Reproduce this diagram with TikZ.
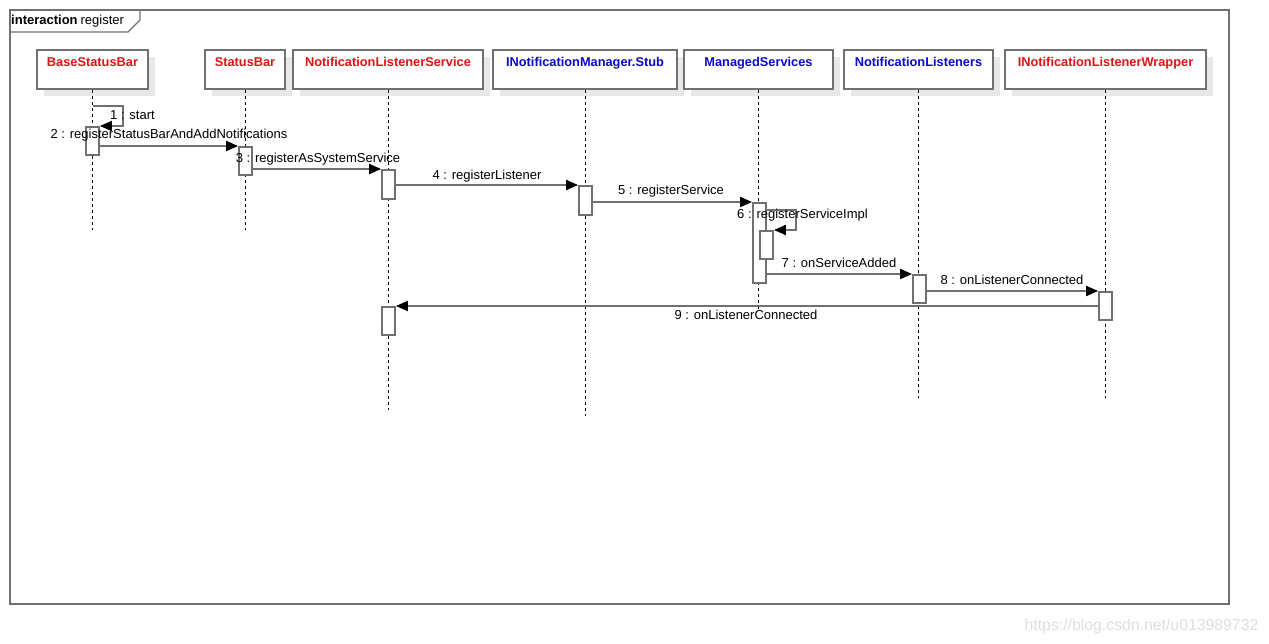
\documentclass[tikz,border=0pt]{standalone}
\usepackage{fontspec}
\setmainfont{Liberation Sans}
\usetikzlibrary{arrows.meta,shadows}
\definecolor{lred}{RGB}{224,20,20}
\definecolor{lblue}{RGB}{10,10,200}
\definecolor{edgegray}{RGB}{112,112,112}
\definecolor{shadegray}{RGB}{232,232,232}
\definecolor{wmgray}{RGB}{222,222,222}
\begin{document}
\begin{tikzpicture}[x=1pt,y=-1pt,
  font=\fontsize{13}{15}\selectfont,
  head/.style={draw=edgegray, line width=2pt, fill=white, inner xsep=0pt, inner ysep=0pt,
    text height=17pt, text depth=22pt, minimum height=39pt,
    font=\fontsize{12.8}{15}\selectfont\bfseries,
    general shadow={fill=shadegray, shadow xshift=7pt, shadow yshift=-7pt}},
  redhead/.style={head, text=lred},
  bluehead/.style={head, text=lblue},
  life/.style={draw=black, line width=0.9pt, dash pattern=on 3pt off 3pt},
  act/.style={draw=edgegray, line width=1.8pt, fill=white, minimum width=13pt, inner sep=0pt, anchor=north},
  msg/.style={draw=edgegray, line width=1.9pt, -{Triangle[length=12pt,width=10pt,color=black,fill=black]}},
  lbl/.style={inner sep=0pt, text=black}]
\useasboundingbox (0,0) rectangle (1269,644);
% frame
\draw[edgegray, line width=1.6pt] (10,10) rectangle (1229,604);
\draw[edgegray, line width=1.4pt] (10,32) -- (128,32) -- (140,20) -- (140,10);
\node[lbl, anchor=west] (frametitle) at (11,21.5) {\textbf{interaction}\kern3pt register};
% heads
\node[redhead, minimum width=111pt] (bsb) at (92.5,69.5) {BaseStatusBar};
\node[redhead, minimum width=80pt] (sb) at (245,69.5) {StatusBar};
\node[redhead, minimum width=190pt] (nls) at (388,69.5) {NotificationListenerService};
\node[bluehead, minimum width=184pt] (stub) at (585,69.5) {INotificationManager.Stub};
\node[bluehead, minimum width=149pt] (ms) at (758.5,69.5) {ManagedServices};
\node[bluehead, minimum width=149pt] (nl) at (918.5,69.5) {NotificationListeners};
\node[redhead, minimum width=201pt] (w) at (1105.5,69.5) {INotificationListenerWrapper};
% lifeline ends
\coordinate (bsbEnd) at (bsb.south |- 0,230);
\coordinate (sbEnd) at (sb.south |- 0,230);
\coordinate (nlsEnd) at (nls.south |- 0,410);
\coordinate (stubEnd) at (stub.south |- 0,416);
\coordinate (msEnd) at (ms.south |- 0,311);
\coordinate (nlEnd) at (nl.south |- 0,398);
\coordinate (wEnd) at (w.south |- 0,398);
\draw[life] (bsb.south) -- (bsbEnd);
\draw[life] (sb.south) -- (sbEnd);
\draw[life] (nls.south) -- (nlsEnd);
\draw[life] (stub.south) -- (stubEnd);
\draw[life] (ms.south) -- (msEnd);
\draw[life] (nl.south) -- (nlEnd);
\draw[life] (w.south) -- (wEnd);
% activations
\node[act, minimum height=28pt] (aBSB) at (92.5,126) {};
\node[act, minimum height=28pt] (aSB) at (245.5,146) {};
\node[act, minimum height=29pt] (aNLS1) at (388.5,169) {};
\node[act, minimum height=29pt] (aStub) at (585.5,185) {};
\node[act, minimum height=80pt] (aMS) at (759.5,202) {};
\node[act, minimum height=28pt] (aMS2) at (766.5,230) {};
\node[act, minimum height=28pt] (aNL) at (919.5,274) {};
\node[act, minimum height=28pt] (aW) at (1105.5,291) {};
\node[act, minimum height=28pt] (aNLS2) at (388.5,306) {};
% messages
\draw[msg] (aBSB.north |- 0,106) -- (123,106) |- (aBSB.north east);
\draw[msg] (aSB.north west -| aBSB.east) -- (aSB.north west);
\draw[msg] (aNLS1.north west -| aSB.east) -- (aNLS1.north west);
\draw[msg] (aStub.north west -| aNLS1.east) -- (aStub.north west);
\draw[msg] (aMS.north west -| aStub.east) -- (aMS.north west);
\draw[msg] (aMS.east |- 0,210) -- (796,210) |- (aMS2.north east);
\draw[msg] (aNL.north west -| aMS.east) -- (aNL.north west);
\draw[msg] (aW.north west -| aNL.east) -- (aW.north west);
\draw[msg] (aW.west |- aNLS2.north) -- (aNLS2.north east);
% labels
\node[lbl] (l1) at (132.5,115) {1 : start};
\node[lbl] (l2) at (169,135) {2 : registerStatusBarAndAddNotifications};
\node[lbl] (l3) at (318,159) {3 : registerAsSystemService};
\node[lbl] (l4) at (487,176) {4 : registerListener};
\node[lbl] (l5) at (671,191) {5 : registerService};
\node[lbl] (l6) at (802.5,215) {6 : registerServiceImpl};
\node[lbl] (l7) at (839,263) {7 : onServiceAdded};
\node[lbl] (l8) at (1012,280) {8 : onListenerConnected};
\node[lbl] (l9) at (746,315) {9 : onListenerConnected};
% watermark
\node[lbl, text=wmgray, font=\fontsize{15.8}{18}\selectfont] (wm) at (1141.5,626) {https://blog.csdn.net/u013989732};
\end{tikzpicture}
\end{document}
